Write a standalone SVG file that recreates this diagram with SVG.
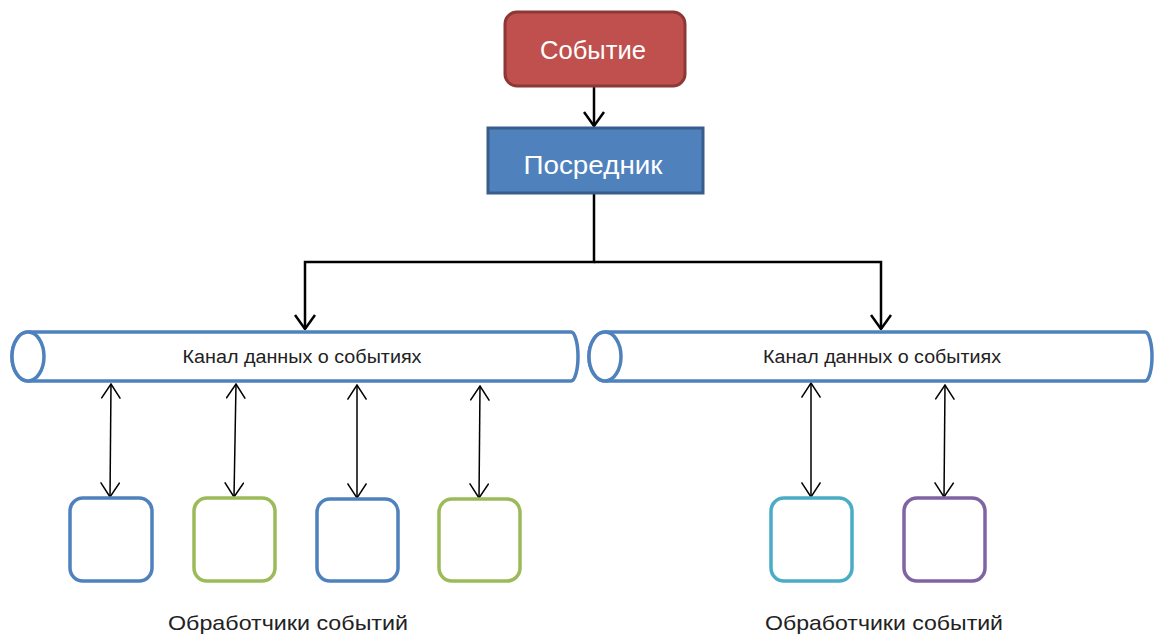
<svg xmlns="http://www.w3.org/2000/svg" width="1155" height="635" viewBox="0 0 1155 635">
<defs>
<style>
.lbl{font-family:"Liberation Sans","Noto Sans",sans-serif;fill:#222;text-anchor:middle}
.title{font-family:"Liberation Sans","Noto Sans",sans-serif;fill:#fff;text-anchor:middle;font-size:25px}
.chan{fill:#fff;stroke:#4F81BD;stroke-width:3.5}
.handler{fill:#fff;stroke-width:3.5}
.main{fill:none;stroke:#000;stroke-width:2.5}
.bi{fill:none;stroke:#000;stroke-width:1.5}
</style>
<marker id="headBig" viewBox="0 0 16 22" refX="15" refY="11" markerWidth="16" markerHeight="22" markerUnits="userSpaceOnUse" orient="auto-start-reverse">
<path d="M1,1 L15,11 L1,21" fill="none" stroke="#000" stroke-width="2.5"/>
</marker>
<marker id="headSmall" viewBox="0 0 16 20" refX="15" refY="10" markerWidth="16" markerHeight="20" markerUnits="userSpaceOnUse" orient="auto-start-reverse">
<path d="M0.5,0.5 L15,10 L0.5,19.5" fill="none" stroke="#000" stroke-width="1.5"/>
</marker>
</defs>
<rect width="1155" height="635" fill="#fff"/>

<g id="connectors">
<line class="main" x1="594" y1="87" x2="594" y2="126" marker-end="url(#headBig)"/>
<polyline class="main" points="594,194 594,262 305,262 305,329" marker-end="url(#headBig)"/>
<polyline class="main" points="594,262 881,262 881,329" marker-end="url(#headBig)"/>
<line class="bi" x1="111" y1="384" x2="110" y2="497" marker-start="url(#headSmall)" marker-end="url(#headSmall)"/>
<line class="bi" x1="236" y1="384" x2="234" y2="497" marker-start="url(#headSmall)" marker-end="url(#headSmall)"/>
<line class="bi" x1="357" y1="385" x2="357" y2="498" marker-start="url(#headSmall)" marker-end="url(#headSmall)"/>
<line class="bi" x1="480" y1="386" x2="479" y2="498" marker-start="url(#headSmall)" marker-end="url(#headSmall)"/>
<line class="bi" x1="811" y1="383" x2="811" y2="497" marker-start="url(#headSmall)" marker-end="url(#headSmall)"/>
<line class="bi" x1="945" y1="385" x2="944" y2="497" marker-start="url(#headSmall)" marker-end="url(#headSmall)"/>
</g>

<g id="event">
<rect x="505" y="12" width="180" height="74" rx="12" fill="#C0504D" stroke="#8C3836" stroke-width="3"/>
<text class="title" x="593" y="59" textLength="106" lengthAdjust="spacingAndGlyphs">Событие</text>
</g>

<g id="mediator">
<rect x="488" y="128" width="215" height="65" fill="#4F81BD" stroke="#385D8A" stroke-width="3"/>
<text class="title" x="593" y="174" textLength="139" lengthAdjust="spacingAndGlyphs">Посредник</text>
</g>

<g id="channel-left">
<path class="chan" d="M28,332 H571 A7,24.5 0 0 1 571,381 H28 A16,24.5 0 0 1 28,332 Z"/>
<ellipse class="chan" cx="28" cy="356.5" rx="16" ry="24.5"/>
<text class="lbl" x="302" y="363" font-size="18" textLength="239" lengthAdjust="spacingAndGlyphs">Канал данных о событиях</text>
</g>

<g id="channel-right">
<path class="chan" d="M605,332 H1145 A7,24.5 0 0 1 1145,381 H605 A16,24.5 0 0 1 605,332 Z"/>
<ellipse class="chan" cx="605" cy="356.5" rx="16" ry="24.5"/>
<text class="lbl" x="882" y="363" font-size="18" textLength="238" lengthAdjust="spacingAndGlyphs">Канал данных о событиях</text>
</g>

<g id="handler-1"><rect class="handler" x="70" y="498" width="82" height="83" rx="13" stroke="#4F81BD"/></g>
<g id="handler-2"><rect class="handler" x="194" y="498" width="81" height="83" rx="13" stroke="#9BBB59"/></g>
<g id="handler-3"><rect class="handler" x="317" y="499" width="81" height="82" rx="13" stroke="#4F81BD"/></g>
<g id="handler-4"><rect class="handler" x="439" y="499" width="81" height="82" rx="13" stroke="#9BBB59"/></g>
<g id="handler-5"><rect class="handler" x="771" y="498" width="81" height="83" rx="13" stroke="#4BACC6"/></g>
<g id="handler-6"><rect class="handler" x="904" y="498" width="81" height="83" rx="13" stroke="#8064A2"/></g>

<g id="label-left"><text class="lbl" x="288" y="630" font-size="21" textLength="240" lengthAdjust="spacingAndGlyphs">Обработчики событий</text></g>
<g id="label-right"><text class="lbl" x="884" y="630" font-size="21" textLength="238" lengthAdjust="spacingAndGlyphs">Обработчики событий</text></g>
</svg>
